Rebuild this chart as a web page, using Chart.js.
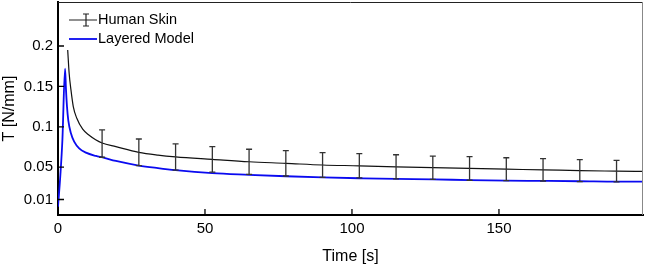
<!DOCTYPE html>
<html>
<head>
<meta charset="utf-8">
<script src="https://cdn.jsdelivr.net/npm/chart.js@4/dist/chart.umd.min.js"></script>
<style>
  html, body { margin: 0; padding: 0; background: #fff; }
  #wrap { width: 646px; height: 266px; }
</style>
</head>
<body>
<div id="wrap"><canvas id="chart" width="646" height="266"></canvas></div>
<script>
// Human skin (measured) curve
const skinTime = [3.3, 3.8, 4.4, 5.2, 6.4, 8.4, 10.6, 12.8, 15, 19.7, 27.5, 34, 40, 52.5, 65, 77.5, 90, 102.5, 115, 127.5, 140, 152.5, 165, 177.5, 190, 199];
const skinValues = [0.195, 0.166, 0.146, 0.125, 0.1105, 0.097, 0.0895, 0.084, 0.08, 0.0755, 0.0684, 0.065, 0.0628, 0.0597, 0.0567, 0.0548, 0.0527, 0.0517, 0.0504, 0.0494, 0.0484, 0.0475, 0.0467, 0.0457, 0.0451, 0.0447];

// error bars on the skin curve
const barTime = [15, 27.5, 40, 52.5, 65, 77.5, 90, 102.5, 115, 127.5, 140, 152.5, 165, 177.5, 190];
const barMean = [0.0792, 0.0684, 0.0626, 0.0596, 0.0567, 0.0548, 0.0527, 0.0517, 0.0504, 0.0494, 0.0484, 0.0475, 0.0467, 0.0457, 0.0451];
const barError = [0.0169, 0.0165, 0.0163, 0.0158, 0.0155, 0.0157, 0.0152, 0.015, 0.015, 0.0144, 0.0146, 0.0142, 0.0138, 0.0136, 0.0134];

// layered model curve
const modelTime = [0, 0.8, 1.5, 2.4, 2.72, 3.06, 3.5, 4.4, 5.5, 7.2, 9.5, 12.9, 15.2, 19.7, 27.5, 34, 40, 52.5, 65, 77.5, 90, 102.5, 115, 127.5, 140, 152.5, 165, 177.5, 190, 199];
const modelValues = [0.001, 0.04, 0.084, 0.172, 0.146, 0.125, 0.108, 0.092, 0.0816, 0.0733, 0.068, 0.0639, 0.062, 0.0577, 0.052, 0.0488, 0.0463, 0.0426, 0.0406, 0.0388, 0.0374, 0.0363, 0.0354, 0.035, 0.0339, 0.0333, 0.033, 0.0326, 0.032, 0.032];

const yTicks = [0.01, 0.05, 0.1, 0.15, 0.2];
const xTicks = [0, 50, 100, 150];

const FONT = "'Liberation Sans', Arial, sans-serif";

const extras = {
  id: 'extras',
  afterDatasetsDraw(chart) {
    const { ctx, chartArea: a, scales: { x, y } } = chart;
    ctx.save();

    // error bars
    ctx.strokeStyle = '#333';
    ctx.lineWidth = 1.3;
    barTime.forEach((t, i) => {
      const px = x.getPixelForValue(t);
      const top = y.getPixelForValue(barMean[i] + barError[i]);
      const bot = y.getPixelForValue(barMean[i] - barError[i]);
      ctx.beginPath();
      ctx.moveTo(px, top); ctx.lineTo(px, bot);
      ctx.moveTo(px - 3, top); ctx.lineTo(px + 3, top);
      ctx.moveTo(px - 3, bot); ctx.lineTo(px + 3, bot);
      ctx.stroke();
    });

    // frame top / right
    ctx.lineWidth = 1;
    ctx.strokeStyle = '#222';
    ctx.beginPath();
    ctx.moveTo(a.left, a.top + 0.5); ctx.lineTo(a.right, a.top + 0.5);
    ctx.stroke();
    ctx.strokeStyle = '#888';
    ctx.beginPath();
    ctx.moveTo(a.right - 0.5, a.top); ctx.lineTo(a.right - 0.5, a.bottom);
    ctx.stroke();

    // inward ticks
    ctx.strokeStyle = '#000';
    ctx.lineWidth = 1.3;
    ctx.beginPath();
    yTicks.forEach(v => {
      const py = y.getPixelForValue(v);
      ctx.moveTo(a.left, py); ctx.lineTo(a.left + 6, py);
    });
    xTicks.forEach(v => {
      const px = x.getPixelForValue(v);
      ctx.moveTo(px, a.bottom); ctx.lineTo(px, a.bottom - 6);
    });
    ctx.stroke();

    // legend
    ctx.font = '14.5px ' + FONT;
    ctx.textBaseline = 'middle';
    ctx.fillStyle = '#000';
    ctx.strokeStyle = '#222';
    ctx.lineWidth = 1.2;
    ctx.beginPath();
    ctx.moveTo(69, 20); ctx.lineTo(97, 20);
    ctx.moveTo(86, 14); ctx.lineTo(86, 26);
    ctx.moveTo(83, 14); ctx.lineTo(89, 14);
    ctx.moveTo(83, 26); ctx.lineTo(89, 26);
    ctx.stroke();
    ctx.fillText('Human Skin', 98, 20);
    ctx.strokeStyle = '#0a0af0';
    ctx.lineWidth = 1.8;
    ctx.beginPath();
    ctx.moveTo(69, 39); ctx.lineTo(97, 39);
    ctx.stroke();
    ctx.fillText('Layered Model', 98, 39);

    ctx.restore();
  }
};

new Chart(document.getElementById('chart'), {
  type: 'line',
  data: {
    datasets: [
      {
        label: 'Human Skin',
        data: skinTime.map((t, i) => ({ x: t, y: skinValues[i] })),
        borderColor: '#111',
        borderWidth: 1.2,
        pointRadius: 0,
        cubicInterpolationMode: 'monotone',
      },
      {
        label: 'Layered Model',
        data: modelTime.map((t, i) => ({ x: t, y: modelValues[i] })),
        borderColor: '#0a0af0',
        borderWidth: 1.8,
        pointRadius: 0,
        cubicInterpolationMode: 'monotone',
      },
    ],
  },
  options: {
    responsive: false,
    animation: false,
    layout: { padding: { top: 2, right: 3, left: 0, bottom: 0 } },
    plugins: {
      legend: { display: false },
      tooltip: { enabled: false },
    },
    scales: {
      x: {
        type: 'linear',
        min: 0,
        max: 199,
        grid: { display: true, drawOnChartArea: false, drawTicks: false },
        border: { display: true, color: '#000', width: 2 },
        afterBuildTicks: s => { s.ticks = xTicks.map(v => ({ value: v })); },
        ticks: { color: '#000', padding: 5, font: { family: FONT, size: 15 }, maxRotation: 0 },
        title: { display: true, text: 'Time [s]', color: '#000', padding: { top: 2, bottom: 0 }, font: { family: FONT, size: 16 } },
        afterFit: s => { s.height = 51; s.paddingLeft = 0; s.paddingRight = 0; },
      },
      y: {
        min: -0.0092,
        max: 0.2545,
        grid: { display: true, drawOnChartArea: false, drawTicks: false },
        border: { display: true, color: '#000', width: 2 },
        afterBuildTicks: s => { s.ticks = yTicks.map(v => ({ value: v })); },
        ticks: { color: '#000', padding: 5, font: { family: FONT, size: 15 }, callback: v => String(v) },
        title: { display: true, text: 'T [N/mm]', color: '#000', padding: { top: 0, bottom: 2 }, font: { family: FONT, size: 16 } },
        afterFit: s => { s.width = 58; s.paddingTop = 0; s.paddingBottom = 0; },
      },
    },
  },
  plugins: [extras],
});
</script>
</body>
</html>
